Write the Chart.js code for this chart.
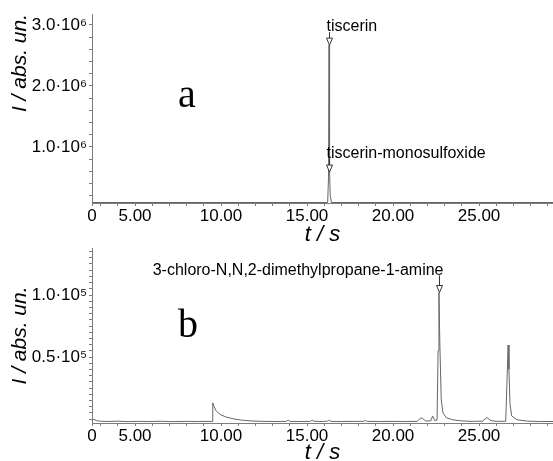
<!DOCTYPE html>
<html><head><meta charset="utf-8">
<script src="https://cdn.jsdelivr.net/npm/chart.js@4.4.0/dist/chart.umd.min.js"></script>
<style>
html,body{margin:0;padding:0;background:#fff;width:553px;height:461px;overflow:hidden;}
#wa{position:absolute;left:0;top:0;width:553px;height:248px;}
#wb{position:absolute;left:0;top:244px;width:553px;height:217px;}
canvas{display:block}
</style></head><body>
<div id="wa"><canvas id="ca" width="553" height="248"></canvas></div>
<div id="wb"><canvas id="cb" width="553" height="217"></canvas></div>
<script>
// ---- data ----
const xTickValues = [2.5, 5, 10, 15, 20, 25];
const xTickLabels = ['0', '5.00', '10.00', '15.00', '20.00', '25.00'];

const yTickValuesA = [1e6, 2e6, 3e6];
const yTickLabelsA = ['1.0·10⁶', '2.0·10⁶', '3.0·10⁶'];
const yTickValuesB = [0.5e5, 1.0e5];
const yTickLabelsB = ['0.5·10⁵', '1.0·10⁵'];

const timesA  = [2.5, 16.2, 16.25, 16.28, 16.31, 16.35, 16.42, 29.3];
const valuesA = [90000, 90000, 500000, 2670000, 590000, 200000, 90000, 90000];

const timesB = [2.5, 2.6, 2.75, 3.0, 3.5, 4.0, 4.6, 5.2, 5.8, 6.5, 7.2, 8.0, 8.7, 9.3, 9.48, 9.52, 9.58, 9.7, 9.85, 10.0,
  10.3, 10.7, 11.2, 11.8, 12.5, 13.2, 13.8, 13.9, 14.0, 14.6, 15.2, 15.3, 15.4, 15.9, 16.2, 16.3, 16.4, 17.0, 17.8, 18.3,
  18.4, 18.5, 19.2, 20.0, 20.8, 21.4, 21.6, 21.7, 21.9, 22.2, 22.3, 22.42, 22.56, 22.62, 22.67, 22.72, 22.8, 22.9, 23.1, 23.5,
  24.0, 24.6, 25.2, 25.45, 25.7, 26.0, 26.55, 26.62, 26.69, 26.74, 26.8, 26.9, 27.2, 27.8, 28.5, 29.3];
const valuesB = [-1500, -200, -1200, -1800, -2000, -1700, -2100, -1900, -2000, -1800, -2100, -1900, -2000, -1900, -2000, 13000, 10500, 7000, 4800, 3300,
  1600, 200, -900, -1600, -1900, -2000, -1900, -800, -1900, -2000, -1900, -900, -1800, -2000, -1700, -1000, -1900, -2000, -1900, -1800,
  -1100, -1900, -2000, -1900, -2000, -1900, 800, 700, -1600, -1400, 2500, -1200, -800, 55000, 102000, 62000, 16000, 5000, 1000, -700,
  -1500, -1900, -1700, 1200, -1300, -1900, -1800, 28000, 59700, 40000, 12000, 2500, -600, -1700, -2000, -2000];

const markerTimesA  = [16.28, 16.29];
const markerValuesA = [2670000, 590000];
const markerLabelsA = ['tiscerin', 'tiscerin-monosulfoxide'];
const markerTimesB  = [22.67];
const markerValuesB = [102000];
const markerLabelsB = ['3-chloro-N,N,2-dimethylpropane-1-amine'];

const panelLetters = ['a', 'b'];
const letterPosA = [8.02, 1.656e6];
const letterPosB = [8.08, 0.661e5];

// ---- styles ----
const SANS = '"Liberation Sans", Arial, sans-serif';
const SERIF = '"Liberation Serif", "Times New Roman", serif';
const TRACE = '#666666';
const AXIS = '#7d7d7d';
const X_MIN = 2.5, X_MAX = 29.3;

const peakMarks = {
  id: 'peakMarks',
  afterDatasetsDraw(chart, args, o) {
    const ctx = chart.ctx, xs = chart.scales.x, ys = chart.scales.y;
    ctx.save();
    ctx.font = '16px ' + SANS;
    ctx.fillStyle = '#000';
    ctx.textBaseline = 'alphabetic';
    o.times.forEach((t, i) => {
      const px = Math.round(xs.getPixelForValue(t)) + 0.5;
      const py = ys.getPixelForValue(o.values[i]);
      ctx.strokeStyle = '#333';
      ctx.lineWidth = 1;
      ctx.beginPath();
      ctx.moveTo(px, py - 7 - o.stem);
      ctx.lineTo(px, py - 7);
      ctx.stroke();
      ctx.beginPath();
      ctx.moveTo(px - 3, py - 7);
      ctx.lineTo(px + 3, py - 7);
      ctx.lineTo(px, py);
      ctx.closePath();
      ctx.fillStyle = '#fff';
      ctx.fill();
      ctx.stroke();
      ctx.fillStyle = '#000';
      if (o.align === 'right') {
        ctx.textAlign = 'right';
        ctx.fillText(o.labels[i], px + 4, py - 8 - o.stem);
      } else {
        ctx.textAlign = 'left';
        ctx.fillText(o.labels[i], px - 3, py - 8 - o.stem);
      }
    });
    // panel letter
    ctx.font = '40px ' + SERIF;
    ctx.textAlign = 'center';
    ctx.textBaseline = 'alphabetic';
    ctx.fillText(o.letter, xs.getPixelForValue(o.letterPos[0]), ys.getPixelForValue(o.letterPos[1]));
    ctx.restore();
  }
};

function xLabel(v) {
  const i = xTickValues.findIndex(m => Math.abs(m - v) < 1e-6);
  return i >= 0 ? xTickLabels[i] : '';
}

function buildChart(id, p) {
  const xTicks = [2.5];
  for (let k = 3; k <= 29; k++) xTicks.push(k);
  const yTicks = [];
  for (let k = 1; k * p.yStep <= p.yMax; k++) yTicks.push(k * p.yStep);
  if (p.yZeroTick) yTicks.unshift(0);
  return new Chart(document.getElementById(id), {
    type: 'line',
    data: { datasets: [{
      data: p.times.map((t, i) => ({ x: t, y: p.values[i] })),
      borderColor: TRACE, borderWidth: 1, pointRadius: 0, tension: 0, fill: false
    }] },
    options: {
      responsive: false, animation: false, devicePixelRatio: 1,
      layout: { padding: { top: p.padTop, left: 0, right: 0, bottom: 0 } },
      plugins: {
        legend: { display: false }, tooltip: { enabled: false },
        peakMarks: { times: p.mTimes, values: p.mValues, labels: p.mLabels, stem: p.stem, align: p.align, letter: p.letter, letterPos: p.letterPos }
      },
      scales: {
        x: {
          type: 'linear', min: X_MIN, max: X_MAX,
          afterBuildTicks: s => { s.ticks = xTicks.map(v => ({ value: v })); },
          afterFit: s => { s.height = p.xHeight; s.paddingLeft = 0; s.paddingRight = 0; },
          ticks: { autoSkip: false, maxRotation: 0, minRotation: 0, padding: 0, color: '#000',
                   font: { family: SANS, size: 17 }, callback: v => xLabel(v) },
          grid: { drawOnChartArea: false, drawTicks: true, tickLength: 3, tickColor: AXIS },
          border: { display: true, color: AXIS, width: 1 },
          title: { display: true, text: 't / s', color: '#000',
                   font: { family: SANS, size: 22, style: 'italic', lineHeight: 0.75 },
                   padding: { top: 0, bottom: p.xTitlePad } }
        },
        y: {
          type: 'linear', min: p.yMin, max: p.yMax,
          afterBuildTicks: s => { s.ticks = yTicks.map(v => ({ value: v })); },
          afterFit: s => { s.width = 92; s.paddingTop = 0; s.paddingBottom = 0; },
          ticks: { autoSkip: false, padding: 2, color: '#000', font: { family: SANS, size: 17 },
                   callback: v => {
                     const i = p.yTickValues.findIndex(m => Math.abs(m - v) < p.yStep / 10);
                     return i >= 0 ? p.yTickLabels[i] : '';
                   } },
          grid: { drawOnChartArea: false, drawTicks: true, tickLength: 3, tickColor: AXIS },
          border: { display: true, color: AXIS, width: 1 },
          title: { display: true, text: 'I / abs. un.', color: '#000', align: p.yTitleAlign,
                   font: { family: SANS, size: 21, style: 'italic', lineHeight: 1 },
                   padding: { top: 9.5, bottom: 0 } }
        }
      }
    },
    plugins: [peakMarks]
  });
}

buildChart('ca', {
  times: timesA, values: valuesA, padTop: 14, xHeight: 45, xTitlePad: 4.75,
  yMin: 82000, yMax: 3.18e6, yStep: 0.2e6, yZeroTick: false,
  yTickValues: yTickValuesA, yTickLabels: yTickLabelsA, yTitleAlign: 'end',
  mTimes: markerTimesA, mValues: markerValuesA, mLabels: markerLabelsA, stem: 6, align: 'left',
  letter: panelLetters[0], letterPos: letterPosA
});
buildChart('cb', {
  times: timesB, values: valuesB, padTop: 4, xHeight: 38, xTitlePad: 0,
  yMin: -3200, yMax: 1.379e5, yStep: 5000, yZeroTick: true,
  yTickValues: yTickValuesB, yTickLabels: yTickLabelsB, yTitleAlign: 'center',
  mTimes: markerTimesB, mValues: markerValuesB, mLabels: markerLabelsB, stem: 10, align: 'right',
  letter: panelLetters[1], letterPos: letterPosB
});
</script></body></html>
